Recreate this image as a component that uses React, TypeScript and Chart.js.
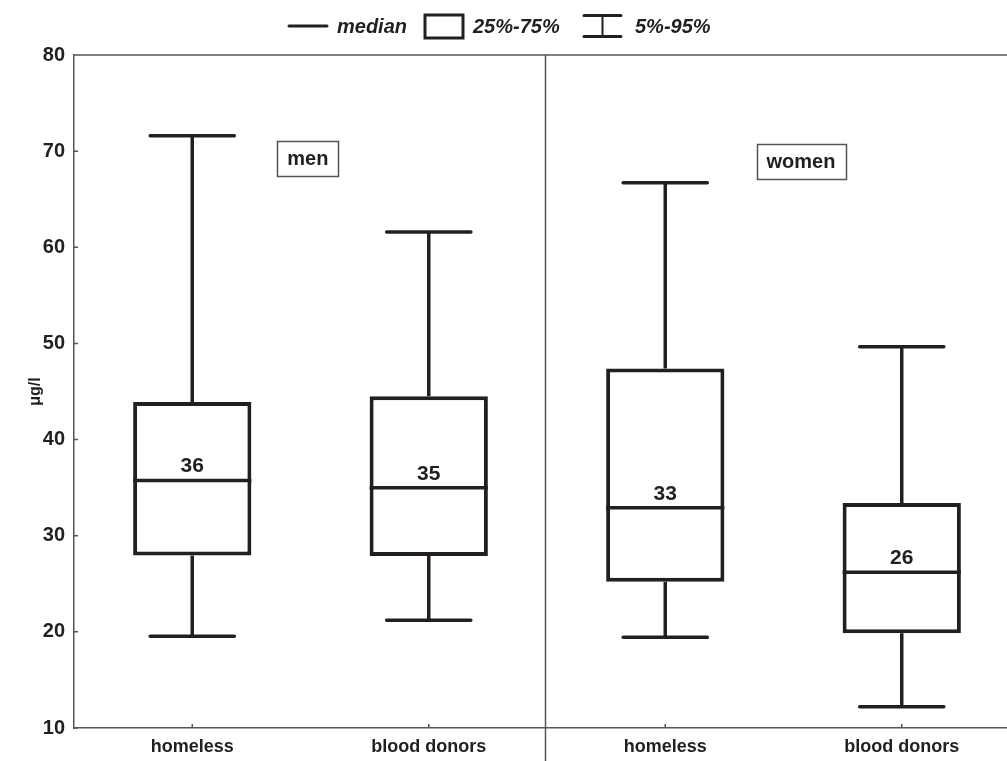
import React, { useEffect, useRef } from 'react';
import { Chart, registerables } from 'chart.js';

Chart.register(...registerables);

// ---- data ----
const categories = ['homeless', 'blood donors', 'homeless', 'blood donors'];
const groupLabels = ['men', 'women'];
const groupLabelX = [0.489, 2.574];
const groupLabelY = [69.2, 68.95];
const p5 = [19.55, 21.2, 19.45, 12.2];
const q1 = [27.95, 27.9, 25.2, 19.85];
const median = [35.75, 35.0, 32.9, 26.2];
const q3 = [43.9, 44.5, 47.4, 33.4];
const p95 = [71.6, 61.6, 66.7, 49.65];
const yTicks = [10, 20, 30, 40, 50, 60, 70, 80];
const yTitle = 'μg/l';
const legendLabels = ['median', '25%-75%', '5%-95%'];

const INK = '#231f20';
const AXIS = '#555555';
const FONT = '"Liberation Sans", Arial, Helvetica, sans-serif';

const extras = {
  id: 'boxExtras',
  afterDatasetsDraw(chart: any) {
    const { ctx, chartArea, scales } = chart;
    const x = scales.x;
    const y = scales.y;
    const meta = chart.getDatasetMeta(0);
    ctx.save();

    // frame extras
    ctx.strokeStyle = AXIS;
    ctx.lineWidth = 1.5;
    ctx.beginPath();
    ctx.moveTo(chartArea.left, chartArea.top);
    ctx.lineTo(chartArea.right, chartArea.top);
    const dx = Math.round(x.getPixelForValue(1.49)) + 0.5;
    ctx.moveTo(dx, chartArea.top);
    ctx.lineTo(dx, chart.height);
    yTicks.forEach((v) => {
      const py = y.getPixelForValue(v);
      ctx.moveTo(chartArea.left, py);
      ctx.lineTo(chartArea.left + 4, py);
    });
    categories.forEach((_, i) => {
      const px = x.getPixelForValue(i);
      ctx.moveTo(px, chartArea.bottom);
      ctx.lineTo(px, chartArea.bottom - 4);
    });
    ctx.stroke();

    // whiskers + medians
    ctx.strokeStyle = INK;
    categories.forEach((_, i) => {
      const px = x.getPixelForValue(i);
      const bar = meta.data[i];
      const half = bar.width / 2;
      const capHalf = x.getPixelForValue(i + 0.178) - px;
      ctx.lineWidth = 3.5;
      ctx.lineCap = 'butt';
      ctx.beginPath();
      ctx.moveTo(px, y.getPixelForValue(q3[i]));
      ctx.lineTo(px, y.getPixelForValue(p95[i]));
      ctx.moveTo(px, y.getPixelForValue(q1[i]));
      ctx.lineTo(px, y.getPixelForValue(p5[i]));
      ctx.stroke();
      ctx.lineCap = 'round';
      ctx.beginPath();
      ctx.moveTo(px - capHalf, y.getPixelForValue(p95[i]));
      ctx.lineTo(px + capHalf, y.getPixelForValue(p95[i]));
      ctx.moveTo(px - capHalf, y.getPixelForValue(p5[i]));
      ctx.lineTo(px + capHalf, y.getPixelForValue(p5[i]));
      ctx.stroke();
      ctx.lineCap = 'butt';
      ctx.lineWidth = 3.5;
      ctx.beginPath();
      const my = y.getPixelForValue(median[i]);
      ctx.moveTo(px - half, my);
      ctx.lineTo(px + half, my);
      ctx.stroke();
      ctx.fillStyle = INK;
      ctx.font = `bold 21px ${FONT}`;
      ctx.textAlign = 'center';
      ctx.textBaseline = 'alphabetic';
      ctx.fillText(String(Math.round(median[i])), px, my - 8);
    });

    // group labels
    groupLabels.forEach((g, i) => {
      const cx = x.getPixelForValue(groupLabelX[i]);
      const cy = y.getPixelForValue(groupLabelY[i]);
      ctx.font = `bold 20px ${FONT}`;
      const w = ctx.measureText(g).width + 20;
      const h = 35;
      ctx.strokeStyle = AXIS;
      ctx.lineWidth = 1.5;
      ctx.strokeRect(Math.round(cx - w / 2) + 0.5, Math.round(cy - h / 2) + 0.5, Math.round(w), h);
      ctx.fillStyle = INK;
      ctx.textAlign = 'center';
      ctx.textBaseline = 'middle';
      ctx.fillText(g, cx, cy + 1);
    });

    // y title
    ctx.save();
    ctx.translate(36, (chartArea.top + chartArea.bottom) / 2);
    ctx.rotate(-Math.PI / 2);
    ctx.font = `bold 16px ${FONT}`;
    ctx.fillStyle = INK;
    ctx.textAlign = 'center';
    ctx.textBaseline = 'middle';
    ctx.fillText(yTitle, 0, 0);
    ctx.restore();

    // legend
    ctx.strokeStyle = INK;
    ctx.fillStyle = INK;
    ctx.lineWidth = 3;
    ctx.lineCap = 'round';
    ctx.beginPath();
    ctx.moveTo(289, 26);
    ctx.lineTo(327, 26);
    ctx.stroke();
    ctx.lineCap = 'butt';
    ctx.strokeRect(425, 15, 38, 23);
    ctx.lineCap = 'round';
    ctx.beginPath();
    ctx.moveTo(584, 15.5);
    ctx.lineTo(621, 15.5);
    ctx.moveTo(584, 36.5);
    ctx.lineTo(621, 36.5);
    ctx.stroke();
    ctx.lineWidth = 2;
    ctx.beginPath();
    ctx.moveTo(602.5, 15.5);
    ctx.lineTo(602.5, 36.5);
    ctx.stroke();
    ctx.font = `italic bold 20px ${FONT}`;
    ctx.textAlign = 'left';
    ctx.textBaseline = 'alphabetic';
    ctx.fillText(legendLabels[0], 337, 33);
    ctx.fillText(legendLabels[1], 473, 33);
    ctx.fillText(legendLabels[2], 635, 33);

    ctx.restore();
  },
};

export default function App() {
  const ref = useRef<HTMLCanvasElement | null>(null);
  useEffect(() => {
    if (!ref.current) return;
    const chart = new Chart(ref.current, {
      type: 'bar',
      data: {
        labels: categories,
        datasets: [
          {
            data: categories.map((_, i) => [q1[i], q3[i]] as [number, number]),
            backgroundColor: '#ffffff',
            borderColor: INK,
            borderWidth: 4,
            borderSkipped: false,
            barPercentage: 0.5,
            categoryPercentage: 1,
          },
        ],
      },
      options: {
        responsive: false,
        animation: false,
        events: [],
        layout: { padding: { top: 55, left: 0, right: 0, bottom: 0 } },
        plugins: { legend: { display: false }, tooltip: { enabled: false } },
        scales: {
          x: {
            type: 'category',
            offset: true,
            grid: { display: false, drawTicks: false },
            border: { display: true, color: AXIS, width: 1.5 },
            ticks: { color: INK, font: { family: FONT, size: 18, weight: 'bold' }, padding: 8, maxRotation: 0 },
            afterFit: (s: any) => {
              s.height = 33;
            },
          },
          y: {
            type: 'linear',
            min: 10,
            max: 80,
            grid: { display: false, drawTicks: false },
            border: { display: true, color: AXIS, width: 1.5 },
            ticks: { stepSize: 10, color: INK, font: { family: FONT, size: 20, weight: 'bold' }, padding: 9 },
            afterFit: (s: any) => {
              s.width = 74;
            },
          },
        },
      },
      plugins: [extras],
    });
    return () => chart.destroy();
  }, []);
  return (
    <div style={{ position: 'fixed', left: 0, top: 0, width: 1007, height: 761, overflow: 'hidden', background: '#fff' }}>
      <canvas ref={ref} width={1020} height={761} style={{ width: 1020, height: 761, display: 'block' }} />
    </div>
  );
}
